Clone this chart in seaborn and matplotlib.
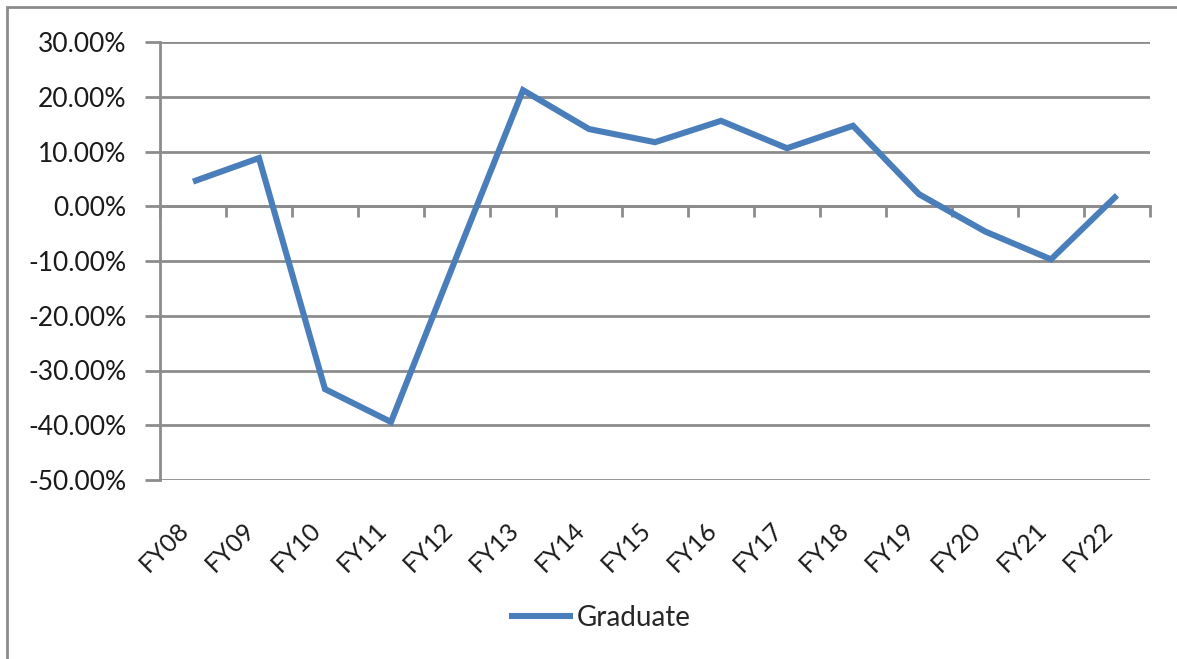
import numpy as np
import pandas as pd
import seaborn as sns
import matplotlib.pyplot as plt
from matplotlib.patches import Rectangle
from matplotlib.ticker import FuncFormatter, FixedLocator, NullFormatter

# values (percent change)
years = ['FY08', 'FY09', 'FY10', 'FY11', 'FY12', 'FY13', 'FY14', 'FY15',
         'FY16', 'FY17', 'FY18', 'FY19', 'FY20', 'FY21', 'FY22']
graduate = [4.5, 8.8, -33.4, -39.4, -9.0, 21.2, 14.1, 11.7,
            15.6, 10.6, 14.7, 2.2, -4.6, -9.7, 2.0]
y_ticks = [-50, -40, -30, -20, -10, 0, 10, 20, 30]

dframe = pd.DataFrame({'year': years, 'Graduate': graduate})

sns.set_style("white")
plt.rcParams['font.family'] = ['Lato', 'DejaVu Sans']

grid_col = '#8c8c8c'
line_col = '#4a7ebb'

fig = plt.figure(figsize=(11.77, 6.59), dpi=100)
ax = fig.add_axes([160 / 1177, 1 - 480 / 659, 990 / 1177, 438 / 659])

sns.lineplot(data=dframe, x='year', y='Graduate', ax=ax, color=line_col,
             linewidth=4.4, label='Graduate', legend=False, sort=False,
             solid_capstyle='butt', solid_joinstyle='miter')

ax.set_xlim(-0.5, len(years) - 0.5)
ax.set_ylim(y_ticks[0], y_ticks[-1])
ax.set_yticks(y_ticks)
ax.yaxis.set_major_formatter(FuncFormatter(lambda v, p: '{:.2f}%'.format(v)))
ax.yaxis.grid(True, color=grid_col, linewidth=2)
ax.set_axisbelow(True)

for s in ['top', 'right', 'bottom']:
    ax.spines[s].set_visible(False)
ax.spines['left'].set_color(grid_col)
ax.spines['left'].set_linewidth(2)

ax.tick_params(axis='y', which='major', left=True, length=11, width=2,
               color=grid_col, labelsize=19, labelcolor='#1a1a1a', pad=13)
ax.tick_params(axis='x', which='major', bottom=False, labelsize=18,
               labelcolor='#1a1a1a', pad=24)
ax.set_xticks(range(len(years)))
ax.set_xticklabels(years, rotation=45, ha='right')
ax.set_xlabel('')
ax.set_ylabel('')

# category axis crossing at zero, ticks between categories
zero_pos = (0 - y_ticks[0]) / (y_ticks[-1] - y_ticks[0])
sec = ax.secondary_xaxis(zero_pos)
for s in sec.spines.values():
    s.set_color(grid_col)
    s.set_linewidth(2)
sec.xaxis.set_major_locator(FixedLocator(np.arange(len(years) + 1) - 0.5))
sec.xaxis.set_major_formatter(NullFormatter())
sec.xaxis.set_ticks_position('top')
sec.tick_params(axis='x', direction='in', length=8, width=2,
                color=grid_col, labeltop=False, labelbottom=False)

fig.legend(loc='center', bbox_to_anchor=(600 / 1177, 1 - 618 / 659),
           frameon=False, fontsize=20, handlelength=2.3, handletextpad=0.15)

# outer chart border (left and top visible)
fig.patches.append(Rectangle((7 / 1177, -0.1), 1.2, 1 - 7 / 659 + 0.1,
                             transform=fig.transFigure, fill=False,
                             edgecolor='#8c8c8c', linewidth=2))

fig.savefig('out.png', dpi=100)
